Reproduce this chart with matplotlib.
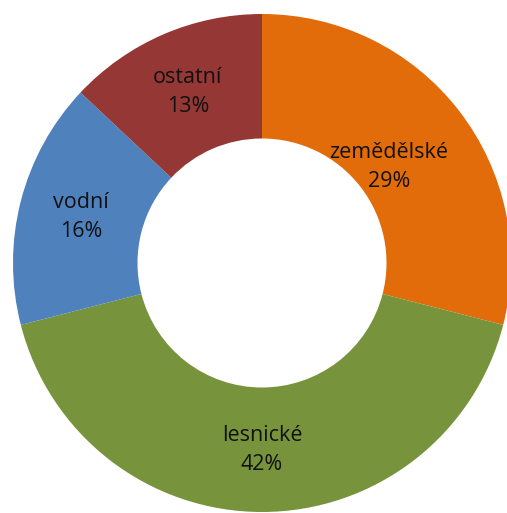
import matplotlib
matplotlib.use("Agg")
import matplotlib.pyplot as plt

# Land use shares (percent), clockwise from 12 o'clock
categories = ["zemědělské", "lesnické", "vodní", "ostatní"]
shares = [29, 42, 16, 13]
colours = ["#E36C0A", "#77933C", "#4F81BD", "#953735"]

plt.rcParams["font.family"] = ["Open Sans", "DejaVu Sans"]

W, H = 507, 513
fig = plt.figure(figsize=(W / 100, H / 100), dpi=100)

# pie centre ~(262, 263) px, outer radius ~249 px
cx, cy, r = 262, 263, 249
ax = fig.add_axes([(cx - r) / W, (H - cy - r) / H, 2 * r / W, 2 * r / H])

inner = 0.50
wedges, texts = ax.pie(
    shares, colors=colours, startangle=90, counterclock=False,
    labels=categories, labeldistance=(1 + inner) / 2,
    wedgeprops=dict(width=1 - inner, linewidth=0),
    textprops=dict(fontsize=15.5, color="#111111"),
)
for t, name, val in zip(texts, categories, shares):
    t.set_text(f"{name}\n{val}%")
    t.set_ha("center")
    t.set_va("center")
    t.set_linespacing(1.5)

# Excel pulled the first label a bit towards the hole
x, y = texts[0].get_position()
texts[0].set_position((x * 0.86, y * 0.84))

ax.set_xlim(-1, 1)
ax.set_ylim(-1, 1)
ax.set_aspect("equal")
ax.axis("off")

fig.savefig("out.png", dpi=100)
